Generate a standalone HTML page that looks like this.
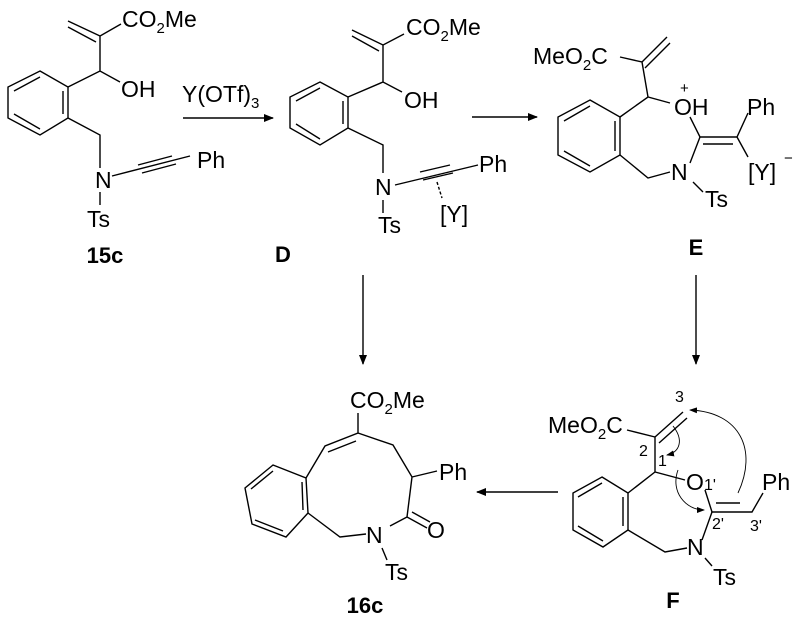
<!DOCTYPE html>
<html><head><style>
body{margin:0;background:#fff}
svg{display:block}
text{font-family:"Liberation Sans",Arial,sans-serif;font-size:23px;fill:#000}
.s{font-size:15px}
.b{font-weight:bold;font-size:22px}
.n{font-size:16px}
</style></head><body>
<svg width="800" height="630" viewBox="0 0 800 630" xmlns="http://www.w3.org/2000/svg">
<defs><marker id="ah" markerWidth="10" markerHeight="8" refX="9" refY="4" orient="auto" markerUnits="userSpaceOnUse"><path d="M0,0 L10,4 L0,8 z" fill="#000"/></marker>
<marker id="ah2" markerWidth="8" markerHeight="6" refX="7" refY="3" orient="auto" markerUnits="userSpaceOnUse"><path d="M0,0 L8,3 L0,6 z" fill="#000"/></marker></defs>
<g stroke="#000" stroke-width="1.4" fill="none">
<!-- 15c -->
<path d="M40,71 L68,87 L68,118 L40,135 L8,118 L8,87 Z"/>
<path d="M63,91 L63,114 M40,77 L14,91 M14,114 L40,129"/>
<path d="M68,87 L100,71 L120,82 M100,71 L100,36 L121,24 M100,36 L68,21 M96,42 L68,27"/>
<path d="M68,118 L100,135 L100,168 M100,192 L100,205"/>
<path d="M112,176 L190,156 M138,165 L172,156 M142,173 L176,164"/>
<path d="M183,118 L273,118" marker-end="url(#ah)"/>
<!-- D -->
<path d="M320,82 L348,97 L348,128 L320,145 L290,128 L290,97 Z"/>
<path d="M343,101 L343,124 M320,88 L296,101 M296,124 L320,139"/>
<path d="M348,97 L383,82 L402,92 M383,82 L383,45 L404,34 M383,45 L352,30 M379,51 L352,36"/>
<path d="M348,128 L383,145 L383,173 M383,200 L383,213"/>
<path d="M395,185 L478,165 M420,172 L450,165 M423,180 L453,173"/>
<path d="M437,182 L442,198" stroke-dasharray="3,2"/>
<path d="M472,117 L537,117" marker-end="url(#ah)"/>
<!-- E -->
<path d="M590,100 L620,117 L620,155 L590,172 L558,155 L558,117 Z"/>
<path d="M615,121 L615,151 M590,106 L564,121 M564,151 L590,166"/>
<path d="M620,117 L648,97 L670,103 M648,97 L642,62 L620,57 M642,62 L667,37 M645,68 L670,43"/>
<path d="M690,117 L700,137 L737,137 L748,113 M703,144 L733,144 M737,137 L748,157"/>
<path d="M700,137 L690,163 M620,155 L648,178 L670,172 M693,182 L703,192"/>
<path d="M696,275 L696,364" marker-end="url(#ah)"/>
<path d="M363,275 L363,364" marker-end="url(#ah)"/>
<path d="M558,492 L477,492" marker-end="url(#ah)"/>
<!-- 16c -->
<path d="M273,465 L306,478 L308,513 L286,537 L252,524 L245,488 Z"/>
<path d="M251,489 L273,471 M302,482 L303,510 M283,531 L255,520"/>
<path d="M306,478 L325,446 L358,433 L358,413 M328,452 L356,441"/>
<path d="M358,433 L393,445 L412,477 L437,471 M412,477 L407,517 L427,528 M412,512 L430,522"/>
<path d="M308,513 L340,537 L366,534 M382,548 L387,560 M407,517 L390,526"/>
<!-- F -->
<path d="M602,477 L628,493 L628,530 L603,547 L573,530 L573,493 Z"/>
<path d="M623,497 L623,526 M602,483 L578,497 M578,526 L603,541"/>
<path d="M628,493 L655,472 L685,480 M655,472 L655,437 L627,430 M655,437 L683,412 M659,443 L687,418"/>
<path d="M705,490 L712,512 L752,512 L763,493 M716,503 L740,503"/>
<path d="M712,512 L702,540 M628,530 L665,552 L687,548 M705,558 L712,566"/>
</g>
<g stroke="#000" stroke-width="0.9" fill="none">
<path d="M738,493 C758,450 740,412 690,410" marker-end="url(#ah2)"/>
<path d="M673,426 C684,440 680,452 667,455" marker-end="url(#ah2)"/>
<path d="M678,470 C670,492 686,510 704,510" marker-end="url(#ah2)"/>
</g>
<text x="122" y="27">CO<tspan font-size="15" dy="6">2</tspan><tspan dy="-6">Me</tspan></text>
<text x="121" y="97">OH</text>
<text x="95" y="188">N</text>
<text x="87" y="227">Ts</text>
<text x="197" y="168">Ph</text>
<text x="105" y="263" text-anchor="middle" class="b">15c</text>
<text x="182" y="102">Y(OTf)<tspan font-size="15" dy="6">3</tspan></text>
<text x="406" y="35">CO<tspan font-size="15" dy="6">2</tspan><tspan dy="-6">Me</tspan></text>
<text x="404" y="108">OH</text>
<text x="375" y="195">N</text>
<text x="378" y="233">Ts</text>
<text x="479" y="172">Ph</text>
<text x="440" y="222">[Y]</text>
<text x="283" y="262" text-anchor="middle" class="b">D</text>
<text x="533" y="64">MeO<tspan font-size="15" dy="6">2</tspan><tspan dy="-6">C</tspan></text>
<text x="674" y="115">OH</text>
<text x="680" y="93" class="s">+</text>
<text x="747" y="115">Ph</text>
<text x="748" y="180">[Y]</text>
<text x="784" y="163" class="s">−</text>
<text x="671" y="180">N</text>
<text x="705" y="207">Ts</text>
<text x="696" y="255" text-anchor="middle" class="b">E</text>
<text x="350" y="408">CO<tspan font-size="15" dy="6">2</tspan><tspan dy="-6">Me</tspan></text>
<text x="439" y="480">Ph</text>
<text x="427" y="538">O</text>
<text x="366" y="543">N</text>
<text x="385" y="580">Ts</text>
<text x="365" y="613" text-anchor="middle" class="b">16c</text>
<text x="548" y="433">MeO<tspan font-size="15" dy="6">2</tspan><tspan dy="-6">C</tspan></text>
<text x="686" y="490">O</text>
<text x="762" y="490">Ph</text>
<text x="687" y="555">N</text>
<text x="713" y="585">Ts</text>
<text x="673" y="608" text-anchor="middle" class="b">F</text>
<text x="675" y="402" class="n">3</text>
<text x="639" y="456" class="n">2</text>
<text x="658" y="466" class="n">1</text>
<text x="704" y="490" class="n">1'</text>
<text x="712" y="529" class="n">2'</text>
<text x="750" y="531" class="n">3'</text>
</svg>
</body></html>
